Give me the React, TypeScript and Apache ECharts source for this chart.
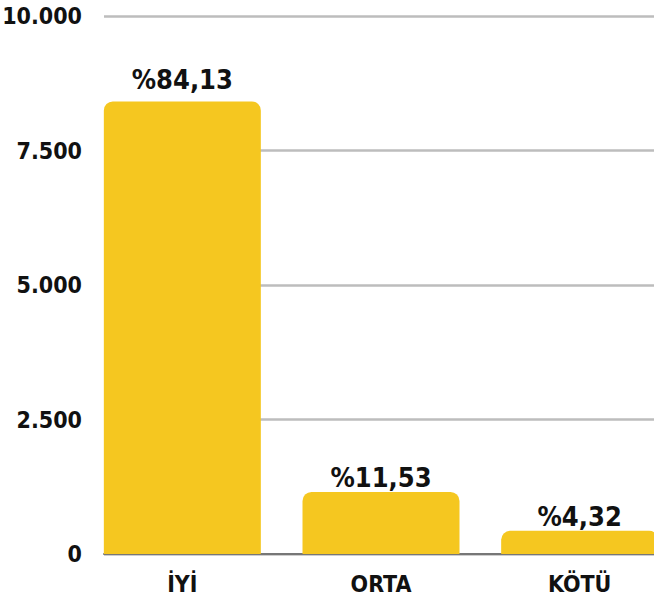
import React, { useEffect, useRef } from "react";
import * as echarts from "echarts";

const categories = ["İYİ", "ORTA", "KÖTÜ"];
const values = [8413, 1153, 432];
const percentLabels = ["%84,13", "%11,53", "%4,32"];
const labelDistances = [8, 1, 1];
const yTicks = [0, 2500, 5000, 7500, 10000];

const FONT = "'DejaVu Sans Condensed', 'DejaVu Sans', sans-serif";
const fmt = (v: number) => String(v).replace(/\B(?=(\d{3})+(?!\d))/g, ".");

export default function App() {
  const ref = useRef<HTMLDivElement>(null);
  useEffect(() => {
    if (!ref.current) return;
    const chart = echarts.init(ref.current, undefined, { renderer: "svg" });
    const yMin = yTicks[0];
    const yMax = yTicks[yTicks.length - 1];
    const step = yTicks[1] - yTicks[0];
    chart.setOption({
      animation: false,
      backgroundColor: "#ffffff",
      grid: [
        { left: 104, right: 0, top: 16, bottom: 47, outerBoundsMode: "none" },
        { left: 83, right: -25, top: 16, bottom: 47, outerBoundsMode: "none" },
      ],
      xAxis: [
        {
          type: "category",
          gridIndex: 0,
          data: categories,
          axisLine: { show: true, lineStyle: { color: "#777777", width: 2 } },
          axisTick: { show: false },
          axisLabel: { show: false },
        },
        {
          type: "category",
          gridIndex: 1,
          data: categories,
          axisLine: { show: false },
          axisTick: { show: false },
          axisLabel: {
            show: true,
            margin: 18,
            color: "#111111",
            fontFamily: FONT,
            fontWeight: "bold",
            fontSize: 23,
          },
        },
      ],
      yAxis: [
        {
          type: "value",
          gridIndex: 0,
          min: yMin,
          max: yMax,
          interval: step,
          axisLine: { show: false },
          axisTick: { show: false },
          splitLine: { show: true, lineStyle: { color: "#bdbdbd", width: 2.5 } },
          axisLabel: {
            margin: 22,
            color: "#111111",
            fontFamily: FONT,
            fontWeight: "bold",
            fontSize: 23,
            formatter: (v: number) => fmt(v),
          },
        },
        {
          type: "value",
          gridIndex: 1,
          min: yMin,
          max: yMax,
          interval: step,
          show: false,
          splitLine: { show: false },
        },
      ],
      series: [
        {
          type: "bar",
          xAxisIndex: 1,
          yAxisIndex: 1,
          barWidth: 157,
          data: values.map((v, i) => ({
            value: v,
            label: { distance: labelDistances[i] },
          })),
          itemStyle: { color: "#F5C720", borderRadius: [9, 9, 0, 0] },
          label: {
            show: true,
            position: "top",
            color: "#111111",
            fontFamily: FONT,
            fontWeight: "bold",
            fontSize: 27,
            formatter: (p: any) => percentLabels[p.dataIndex],
          },
        },
      ],
    });
    return () => chart.dispose();
  }, []);
  return (
    <div
      ref={ref}
      style={{ position: "fixed", left: 0, top: 0, width: 654, height: 601 }}
    />
  );
}
